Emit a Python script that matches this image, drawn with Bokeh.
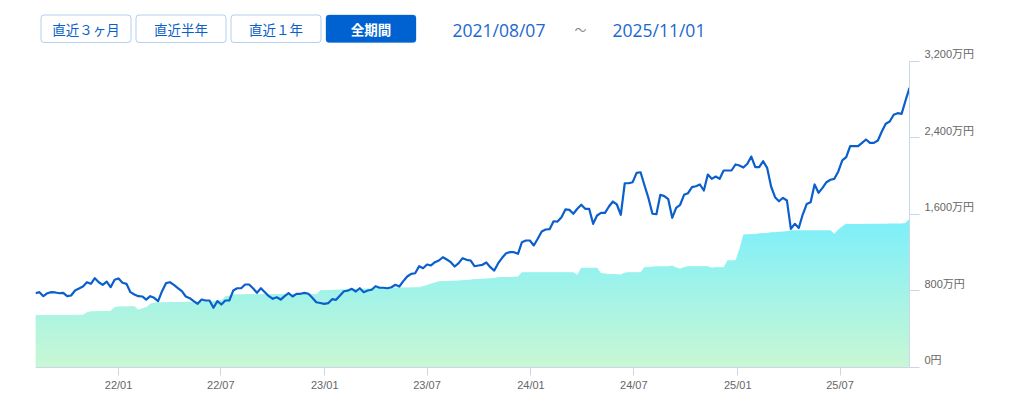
import numpy as np
import pandas as pd
from bokeh.plotting import figure
from bokeh.models import Range1d, FixedTicker, DatetimeTickFormatter, BoxAnnotation
from bokeh.embed import file_html
from bokeh.resources import INLINE
from bokeh.core.properties import value

# ---------------- data ----------------
start_date = "2021-08-07"          # weekly series, first week
period_from = "2021/08/07"
period_to = "2025/11/01"
buttons = ["直近３ヶ月", "直近半年", "直近１年", "全期間"]

# valuation (万円), weekly
valuation = [
    776, 787, 745, 776, 787, 784, 776, 780, 745, 752,
    804, 825, 846, 891, 874, 933, 891, 864, 898, 839,
    916, 930, 885, 874, 787, 763, 745, 742, 710, 745,
    728, 693, 797, 881, 891, 864, 830, 797, 742, 724,
    693, 665, 710, 700, 700, 624, 693, 658, 700, 700,
    804, 828, 828, 867, 867, 828, 780, 828, 787, 745,
    718, 734, 710, 745, 776, 742, 770, 770, 780, 770,
    728, 682, 674, 665, 672, 714, 707, 752, 797, 804,
    822, 794, 828, 787, 804, 812, 849, 833, 833, 828,
    839, 864, 846, 902, 951, 979, 985, 1058, 1037, 1076,
    1066, 1100, 1118, 1152, 1128, 1100, 1055, 1090, 1142, 1125,
    1118, 1058, 1066, 1073, 1097, 1048, 1013, 1090, 1146, 1194,
    1205, 1205, 1188, 1309, 1327, 1327, 1275, 1345, 1421, 1442,
    1445, 1528, 1525, 1570, 1651, 1647, 1606, 1658, 1700, 1658,
    1658, 1501, 1588, 1616, 1616, 1682, 1734, 1703, 1595, 1925,
    1925, 1936, 2034, 2040, 1901, 1769, 1606, 1602, 1804, 1790,
    1758, 1564, 1668, 1700, 1804, 1821, 1884, 1894, 1912, 1849,
    2016, 1971, 1995, 1971, 2058, 2058, 2058, 2121, 2110, 2089,
    2128, 2204, 2093, 2093, 2155, 2086, 1891, 1779, 1737, 1773,
    1745, 1449, 1501, 1457, 1598, 1708, 1727, 1912, 1825, 1877,
    1936, 1961, 1971, 2048, 2163, 2197, 2312, 2312, 2312, 2347,
    2382, 2347, 2347, 2371, 2465, 2546, 2570, 2640, 2657, 2650,
    2789, 2922,
]

# invested amount (万円), weekly
invested = [
    545, 545, 546, 546, 547, 547, 548, 548, 549, 549,
    550, 550, 551, 578, 585, 586, 588, 589, 590, 592,
    630, 637, 637, 638, 639, 640, 603, 620, 630, 665,
    676, 678, 680, 681, 682, 683, 684, 685, 686, 688,
    689, 690, 690, 691, 691, 692, 700, 700, 742, 752,
    762, 763, 763, 764, 764, 765, 765, 765, 766, 766,
    766, 767, 767, 767, 768, 768, 768, 769, 769, 770,
    770, 762, 804, 806, 808, 810, 811, 813, 814, 816,
    818, 819, 821, 823, 824, 826, 828, 829, 830, 831,
    832, 833, 834, 835, 836, 837, 838, 839, 849, 862,
    875, 887, 899, 900, 902, 905, 907, 910, 912, 915,
    918, 921, 924, 927, 930, 933, 936, 939, 942, 943,
    946, 948, 951, 996, 996, 996, 996, 996, 996, 996,
    996, 996, 996, 996, 996, 996, 996, 968, 1042, 1042,
    1042, 1042, 1042, 985, 979, 978, 976, 974, 972, 989,
    996, 996, 996, 996, 1048, 1050, 1052, 1054, 1055, 1056,
    1058, 1066, 1045, 1031, 1048, 1058, 1058, 1058, 1058, 1058,
    1058, 1042, 1048, 1048, 1048, 1118, 1118, 1118, 1240, 1386,
    1389, 1392, 1396, 1399, 1403, 1406, 1410, 1413, 1417, 1420,
    1424, 1431, 1431, 1431, 1431, 1431, 1431, 1431, 1431, 1431,
    1431, 1431, 1397, 1442, 1473, 1501, 1498, 1499, 1500, 1500,
    1501, 1501, 1502, 1502, 1503, 1503, 1504, 1504, 1505, 1505,
    1510, 1553,
]

x_tick_dates = ["2022-01-01", "2022-07-01", "2023-01-01", "2023-07-01",
                "2024-01-01", "2024-07-01", "2025-01-01", "2025-07-01"]
y_ticks = [0, 800, 1600, 2400, 3200]
y_tick_labels = ["0円", "800万円", "1,600万円", "2,400万円", "3,200万円"]

assert len(valuation) == len(invested)
dates = pd.date_range(start_date, periods=len(valuation), freq="7D")

# ---------------- layout geometry (page pixels) ----------------
PAGE_OFF = 0
FR_LEFT, FR_RIGHT = 35, 909
FR_TOP, Y_ZERO, Y_MAX_PX = 8, 367, 60.7
y_top_val = y_ticks[-1] * (Y_ZERO - FR_TOP) / (Y_ZERO - Y_MAX_PX)

p = figure(frame_width=FR_RIGHT - FR_LEFT, frame_height=Y_ZERO - FR_TOP,
           x_axis_type="datetime", y_axis_location="right",
           x_range=Range1d(dates[0], dates[-1]), y_range=Range1d(0, y_top_val),
           toolbar_location=None, output_backend="svg",
           min_border_left=FR_LEFT - PAGE_OFF, min_border_top=FR_TOP - PAGE_OFF,
           min_border_right=10, min_border_bottom=5)
p.grid.visible = False
p.outline_line_color = None

# page-pixel ranges for the header controls
p.extra_x_ranges = {"px": Range1d(FR_LEFT, FR_RIGHT)}
p.extra_y_ranges = {"py": Range1d(Y_ZERO, FR_TOP)}

# ---------------- header (buttons + period) ----------------
BLUE = "#0A5FC8"
btn_left = [40, 135, 230, 325]
btn_w = 91
for i, (lab, bl) in enumerate(zip(buttons, btn_left)):
    active = i == len(buttons) - 1
    p.add_layout(BoxAnnotation(left=bl + 0.5, right=bl + btn_w - 0.5, top=14.5, bottom=42,
                               x_range_name="px", y_range_name="py",
                               fill_color="#0062D0" if active else "white", fill_alpha=1,
                               line_color="#0062D0" if active else BLUE, line_width=1,
                               border_radius=3, level="underlay", editable=False))
    p.text(x=[bl + btn_w / 2], y=[28.5], text=[lab], text_align="center",
           text_baseline="middle", text_font=value("Noto Sans CJK JP"),
           text_font_size="13.5px", text_font_style="bold" if active else "normal",
           text_color="white" if active else BLUE, x_range_name="px", y_range_name="py")

p.text(x=[452], y=[29], text=[period_from], text_align="left", text_baseline="middle",
       text_font=value("Open Sans"), text_font_size="17.5px", text_color="#1A68D0",
       x_range_name="px", y_range_name="py")
p.text(x=[580], y=[29], text=["～"], text_align="center", text_baseline="middle",
       text_font=value("Noto Sans CJK JP"), text_font_size="12px", text_color="#888888",
       x_range_name="px", y_range_name="py")
p.text(x=[612], y=[29], text=[period_to], text_align="left", text_baseline="middle",
       text_font=value("Open Sans"), text_font_size="17.5px", text_color="#1A68D0",
       x_range_name="px", y_range_name="py")

# ---------------- gradient area (stacked horizontal bands) ----------------
inv = np.array(invested, dtype=float)
top = inv.max()
c_bot = np.array([201, 247, 212])
c_top = np.array([124, 239, 250])
nb = 70
step = top / nb
for i in range(nb):
    lo = i * step
    hi = (i + 1) * step + step * 0.6
    t = (i + 0.5) / nb
    c = c_bot + (c_top - c_bot) * t
    col = "#%02x%02x%02x" % tuple(int(round(v)) for v in c)
    p.varea(x=dates, y1=np.minimum(inv, lo), y2=np.minimum(inv, hi), fill_color=col, fill_alpha=1)

p.line(dates, valuation, line_color="#0A5FCC", line_width=2.2, line_join="round")

# ---------------- axes ----------------
AX = "#CCD6EB"
LBL_FONT = "'Liberation Sans', 'Noto Sans CJK JP'"

xa = p.xaxis[0]
xa.ticker = FixedTicker(ticks=[pd.Timestamp(d).value // 10**6 for d in x_tick_dates])
xa.formatter = DatetimeTickFormatter(days="%y/%m", months="%y/%m", years="%y/%m")
xa.axis_line_color = AX
xa.major_tick_line_color = AX
xa.major_tick_out = 8
xa.major_tick_in = 0
xa.minor_tick_line_color = None
xa.major_label_text_color = "#666666"
xa.major_label_text_font = LBL_FONT
xa.major_label_text_font_size = "11px"
xa.major_label_standoff = 3

ya = p.yaxis[0]
ya.bounds = (y_ticks[0], y_ticks[-1])
ya.ticker = FixedTicker(ticks=y_ticks)
# trailing empty line lifts each label slightly above its tick, as in the original
ya.major_label_overrides = {t: l + "\n" for t, l in zip(y_ticks, y_tick_labels)}
ya.axis_line_color = AX
ya.major_tick_line_color = AX
ya.major_tick_out = 10
ya.major_tick_in = 0
ya.minor_tick_line_color = None
ya.major_label_text_color = "#666666"
ya.major_label_text_font = LBL_FONT
ya.major_label_text_font_size = "11px"
ya.major_label_standoff = 5

open("out.html", "w").write(file_html(p, INLINE))
